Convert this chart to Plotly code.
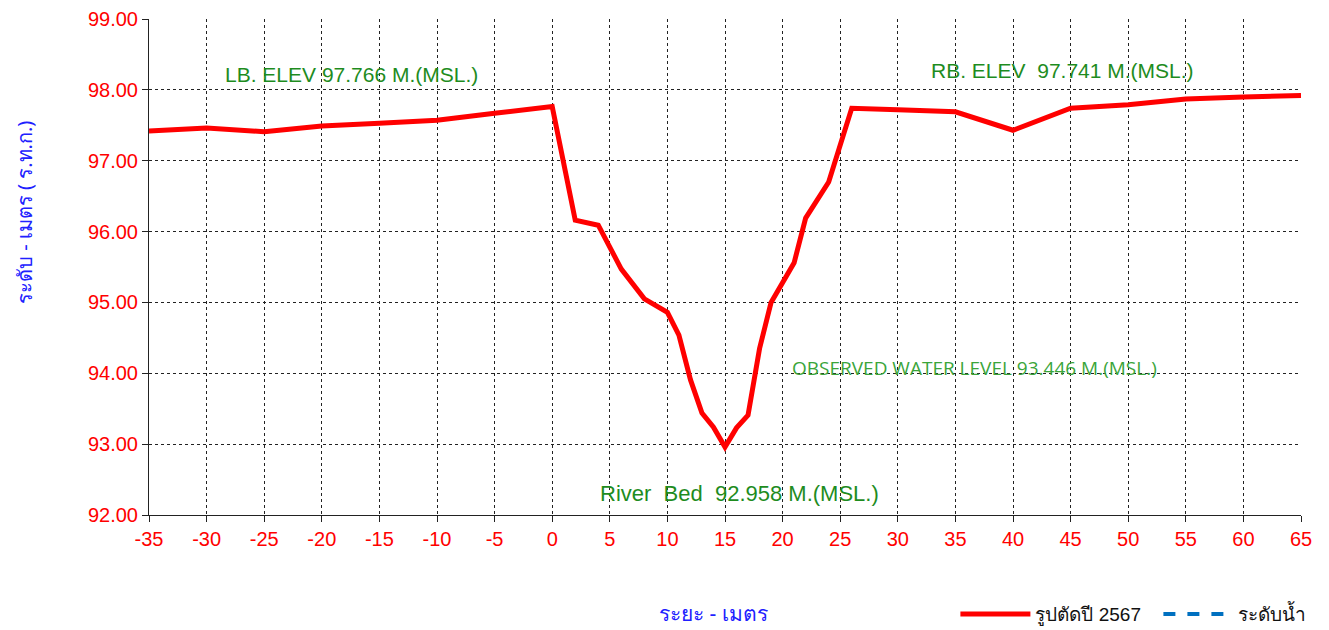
import plotly.graph_objects as go

# Cross-section data (distance in m, elevation in m MSL)
distance = [-35, -30, -25, -20, -15, -10, -5, 0, 2, 4, 6, 8, 10, 11, 12, 13, 14, 15,
            16, 17, 18, 19, 21, 22, 24, 26, 30, 35, 40, 45, 50, 55, 60, 65]
elevation = [97.42, 97.46, 97.41, 97.49, 97.53, 97.57, 97.67, 97.766, 96.16, 96.09,
             95.47, 95.05, 94.86, 94.54, 93.91, 93.44, 93.24, 92.958,
             93.23, 93.41, 94.35, 95.00, 95.56, 96.19, 96.70, 97.741, 97.72, 97.69,
             97.43, 97.74, 97.79, 97.87, 97.90, 97.92]

water_x = [None]
water_y = [None]

x_ticks = list(range(-35, 70, 5))
y_ticks = [92, 93, 94, 95, 96, 97, 98, 99]

series_names = ["รูปตัดปี 2567", "ระดับน้ำ"]

labels = {
    "lb": "LB. ELEV 97.766 M.(MSL.)",
    "rb": "RB. ELEV  97.741 M.(MSL.)",
    "bed": "River  Bed  92.958 M.(MSL.)",
    "wl": "OBSERVED WATER LEVEL 93.446 M.(MSL.)",
    "xt": "ระยะ - เมตร",
    "yt": "ระดับ - เมตร ( ร.ท.ก.)",
}

fig = go.Figure()
fig.add_trace(go.Scatter(x=distance, y=elevation, mode="lines", name=series_names[0],
                         line=dict(color="#FF0000", width=5)))
fig.add_trace(go.Scatter(x=water_x, y=water_y, mode="lines", name=series_names[1],
                         line=dict(color="#0070C0", width=4, dash="dash")))

axis_common = dict(showgrid=True, gridcolor="#222", griddash="dot", gridwidth=1,
                   showline=True, linecolor="#222", linewidth=1,
                   ticks="outside", ticklen=6, tickcolor="#222",
                   tickfont=dict(family="Liberation Sans, Arial", size=20, color="#FF0000"),
                   zeroline=False, automargin=False, ticklabeloverflow="allow")

fig.update_xaxes(range=[-35, 65], tickvals=x_ticks, ticktext=[str(v) for v in x_ticks], **axis_common)
fig.update_yaxes(range=[92, 99], tickvals=y_ticks, ticktext=[f"{v:.2f}" for v in y_ticks], **axis_common)

green = "#1E8C1E"
ann_font = dict(family="Liberation Sans, Arial", size=21, color=green)
fig.add_annotation(x=-28.6, y=98.22, text=labels["lb"], showarrow=False, xanchor="left",
                   yanchor="middle", font=ann_font)
fig.add_annotation(x=32.75, y=98.27, text=labels["rb"], showarrow=False, xanchor="left",
                   yanchor="middle", font=ann_font)
fig.add_annotation(x=3.95, y=92.3, text=labels["bed"], showarrow=False, xanchor="left",
                   yanchor="middle", font=dict(family="Liberation Sans, Arial", size=22, color=green))
fig.add_annotation(x=20.6, y=94.07, text=labels["wl"], showarrow=False, xanchor="left",
                   yanchor="middle",
                   font=dict(family="Open Sans, Liberation Sans", size=19, color="#3AA53A"))

fig.add_annotation(x=0.49, y=-0.198, xref="paper", yref="paper", text=labels["xt"],
                   showarrow=False, xanchor="center", yanchor="middle",
                   font=dict(family="Noto Sans, Liberation Sans", size=21, color="#2020FF"))
fig.add_annotation(x=-0.108, y=0.61, xref="paper", yref="paper", text=labels["yt"],
                   showarrow=False, textangle=-90, xanchor="center", yanchor="middle",
                   font=dict(family="Noto Sans, Liberation Sans", size=20, color="#2020FF"))

fig.update_layout(
    width=1329, height=630,
    margin=dict(l=141, r=36, t=11, b=123, autoexpand=False),
    plot_bgcolor="white", paper_bgcolor="white",
    showlegend=True,
    legend=dict(orientation="h", x=0.70, xanchor="left", y=-0.2, yanchor="middle",
                font=dict(family="Liberation Sans, Arial", size=19, color="#111"),
                itemwidth=70, entrywidth=118, entrywidthmode="pixels", tracegroupgap=0),
)

fig.write_html("out.html")
